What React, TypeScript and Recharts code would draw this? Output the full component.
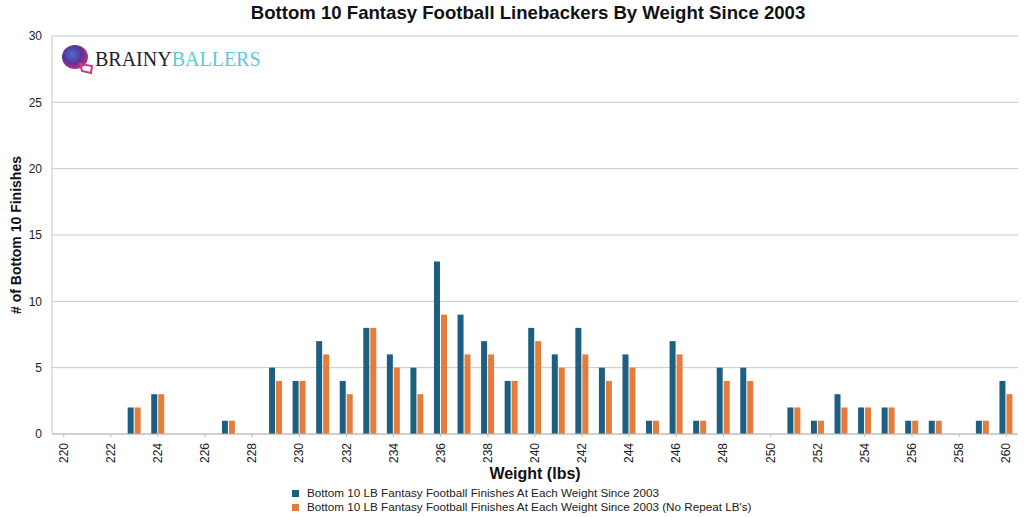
import { BarChart, Bar, XAxis, YAxis, CartesianGrid } from 'recharts';

const weights = [
  220, 221, 222, 223, 224, 225, 226, 227, 228, 229, 230, 231, 232, 233, 234, 235, 236, 237, 238, 239, 240,
  241, 242, 243, 244, 245, 246, 247, 248, 249, 250, 251, 252, 253, 254, 255, 256, 257, 258, 259, 260,
];
const allFinishes = [
  0, 0, 0, 2, 3, 0, 0, 1, 0, 5, 4, 7, 4, 8, 6, 5, 13, 9, 7, 4, 8,
  6, 8, 5, 6, 1, 7, 1, 5, 5, 0, 2, 1, 3, 2, 2, 1, 1, 0, 1, 4,
];
const noRepeatFinishes = [
  0, 0, 0, 2, 3, 0, 0, 1, 0, 4, 4, 6, 3, 8, 5, 3, 9, 6, 6, 4, 7,
  5, 6, 4, 5, 1, 6, 1, 4, 4, 0, 2, 1, 2, 2, 2, 1, 1, 0, 1, 3,
];
const yTicks = [0, 5, 10, 15, 20, 25, 30];

const seriesNames = [
  'Bottom 10 LB Fantasy Football Finishes At Each Weight Since 2003',
  "Bottom 10 LB Fantasy Football Finishes At Each Weight Since 2003 (No Repeat LB's)",
];
const BLUE = '#1c5f80';
const ORANGE = '#e47c3c';

const data = weights.map((w, i) => ({
  w,
  all: allFinishes[i],
  noRepeat: noRepeatFinishes[i],
}));

const font = '"Liberation Sans", Arial, Helvetica, sans-serif';

const XTick = (props: any) => {
  const { x, y, payload } = props;
  return (
    <text
      x={x}
      y={y}
      transform={`rotate(-90, ${x}, ${y})`}
      dx={-4}
      dy={4}
      textAnchor="end"
      fontSize={12}
      fill="#222"
      fontFamily={font}
    >
      {payload.value}
    </text>
  );
};

const Logo = () => (
  <div style={{ position: 'absolute', left: 61, top: 43, display: 'flex', alignItems: 'center' }}>
    <svg width={34} height={32}>
      <defs>
        <radialGradient id="hg" cx="40%" cy="40%" r="60%">
          <stop offset="0%" stopColor="#4a6fd0" />
          <stop offset="60%" stopColor="#5b3296" />
          <stop offset="100%" stopColor="#b8307a" />
        </radialGradient>
      </defs>
      <ellipse cx={14} cy={14} rx={13} ry={12} fill="url(#hg)" />
      <path d="M19 21 L31 23 L30 30 L21 28 Z" fill="none" stroke="#c83a8a" strokeWidth={2} />
    </svg>
    <span style={{ fontFamily: '"Liberation Serif", "DejaVu Serif", serif', fontSize: 20, color: '#222' }}>
      BRAINY
    </span>
    <span style={{ fontFamily: '"Liberation Serif", "DejaVu Serif", serif', fontSize: 20, color: '#5ec8d8' }}>
      BALLERS
    </span>
  </div>
);

export default function App() {
  return (
    <div style={{ position: 'absolute', left: 0, top: 0, width: 1024, height: 517, background: '#fff', fontFamily: font }}>
      <div
        style={{
          position: 'absolute',
          top: 2,
          left: 0,
          width: 1056,
          textAlign: 'center',
          fontSize: 18.6,
          fontWeight: 'bold',
          color: '#111',
        }}
      >
        Bottom 10 Fantasy Football Linebackers By Weight Since 2003
      </div>
      <BarChart
        width={1024}
        height={517}
        data={data}
        margin={{ top: 36, right: 6, left: 0, bottom: 0 }}
        barSize={6}
        barGap={1}
      >
        <CartesianGrid vertical={false} stroke="#c8c8c8" />
        <XAxis
          dataKey="w"
          interval={1}
          height={83}
          tick={<XTick />}
          tickLine={{ stroke: '#bbb' }}
          tickSize={3}
          axisLine={{ stroke: '#bbb' }}
        />
        <YAxis
          domain={[0, 30]}
          ticks={yTicks}
          width={52}
          axisLine={{ stroke: '#c8c8c8' }}
          tickLine={false}
          tick={{ fontSize: 12, fill: '#222', fontFamily: font }}
          tickMargin={4}
        />
        <Bar dataKey="all" name={seriesNames[0]} fill={BLUE} isAnimationActive={false} />
        <Bar dataKey="noRepeat" name={seriesNames[1]} fill={ORANGE} isAnimationActive={false} />
      </BarChart>
      <div
        style={{
          position: 'absolute',
          left: 16,
          top: 235,
          transform: 'translate(-50%, -50%) rotate(-90deg)',
          fontSize: 14,
          fontWeight: 'bold',
          whiteSpace: 'nowrap',
          color: '#111',
        }}
      >
        # of Bottom 10 Finishes
      </div>
      <div
        style={{
          position: 'absolute',
          top: 465,
          left: 0,
          width: 1070,
          textAlign: 'center',
          fontSize: 16,
          fontWeight: 'bold',
          color: '#111',
        }}
      >
        Weight (lbs)
      </div>
      <div style={{ position: 'absolute', left: 292, top: 486, fontSize: 11.7, color: '#222', lineHeight: '14px' }}>
        {seriesNames.map((name, i) => (
          <div key={name} style={{ display: 'flex', alignItems: 'center' }}>
            <span
              style={{
                display: 'inline-block',
                width: 7,
                height: 7,
                background: i === 0 ? BLUE : ORANGE,
                marginRight: 8,
              }}
            />
            {name}
          </div>
        ))}
      </div>
      <Logo />
    </div>
  );
}
